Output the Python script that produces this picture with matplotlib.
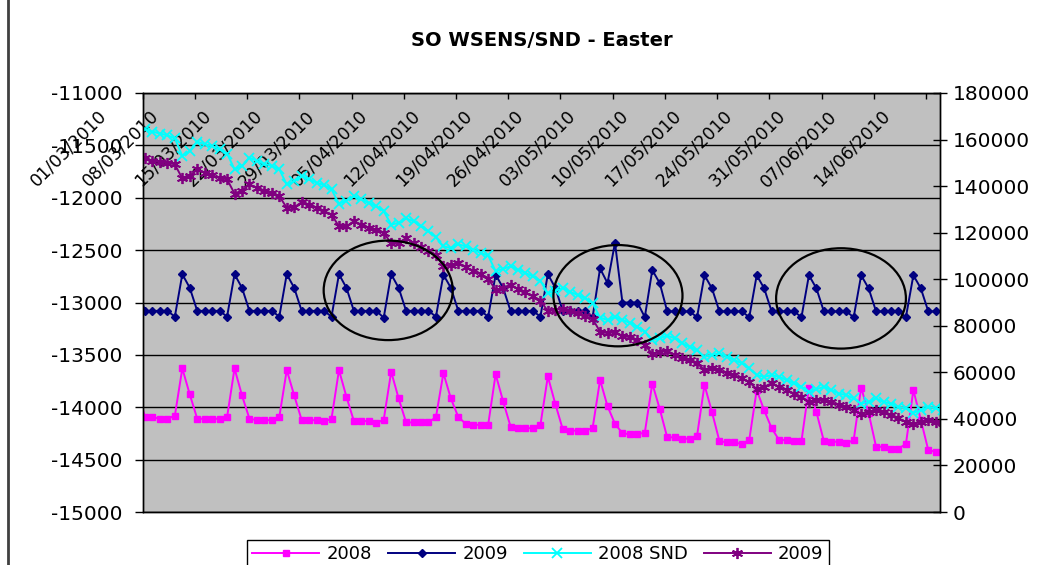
import numpy as np
import matplotlib
matplotlib.use("Agg")
import matplotlib.pyplot as plt
from matplotlib.patches import Ellipse
from matplotlib.transforms import ScaledTranslation
from matplotlib.lines import Line2D
from matplotlib.ticker import StrMethodFormatter

plt.rcParams['font.family'] = ['DejaVu Sans']
plt.rcParams['axes.unicode_minus'] = False

# ---------------- data ----------------
# day index relative to 01/03/2010 (day 0 = Monday 01/03/2010); day -1 = 28/02
days = np.arange(-1, 108)

title = "SO WSENS/SND - Easter"

tick_labels = ["01/03/2010", "08/03/2010", "15/03/2010", "22/03/2010", "29/03/2010",
               "05/04/2010", "12/04/2010", "19/04/2010", "26/04/2010", "03/05/2010",
               "10/05/2010", "17/05/2010", "24/05/2010", "31/05/2010", "07/06/2010",
               "14/06/2010"]

# 2008 (left axis)
s2008 = ([-13845] +
         [-14094, -14094, -14110, -14110, -14081, -13629, -13877] +
         [-14110, -14110, -14110, -14110, -14094, -13629, -13887] +
         [-14110, -14123, -14123, -14123, -14094, -13645, -13887] +
         [-14123, -14123, -14123, -14135, -14110, -13645, -13900] +
         [-14132, -14132, -14132, -14152, -14119, -13661, -13916] +
         [-14145, -14145, -14145, -14145, -14094, -13674, -13916] +
         [-14094, -14158, -14168, -14168, -14168, -13684, -13942] +
         [-14184, -14200, -14200, -14200, -14171, -13706, -13968] +
         [-14210, -14223, -14223, -14223, -14200, -13739, -13990] +
         [-14158, -14248, -14258, -14258, -14242, -13774, -14016] +
         [-14287, -14287, -14300, -14300, -14274, -13787, -14045] +
         [-14323, -14335, -14335, -14352, -14313, -13835, -14029] +
         [-14200, -14313, -14313, -14323, -14323, -13813, -14045] +
         [-14323, -14329, -14329, -14345, -14313, -13813, -14055] +
         [-14377, -14377, -14394, -14394, -14352, -13835, -14120] +
         [-14410, -14426, -14435])

# 2009 (left axis)
s2009 = ([-12860] +
         [-13080, -13080, -13080, -13080, -13135, -12730, -12860] +
         [-13080, -13080, -13080, -13080, -13135, -12730, -12860] +
         [-13080, -13080, -13080, -13080, -13135, -12730, -12860] +
         [-13080, -13080, -13080, -13080, -13135, -12730, -12860] +
         [-13080, -13080, -13080, -13080, -13145, -12730, -12860] +
         [-13080, -13080, -13080, -13080, -13135, -12735, -12860] +
         [-13080, -13080, -13080, -13080, -13135, -12735, -12860] +
         [-13080, -13080, -13080, -13080, -13135, -12730, -12860] +
         [-13080, -13080, -13080, -13080, -13140, -12675, -12815] +
         [-12430, -13000, -13000, -13000, -13140, -12690, -12815] +
         [-13085, -13085, -13085, -13085, -13140, -12740, -12865] +
         [-13085, -13085, -13085, -13085, -13140, -12740, -12865] +
         [-13085, -13085, -13085, -13085, -13140, -12740, -12865] +
         [-13085, -13085, -13085, -13085, -13140, -12740, -12865] +
         [-13085, -13085, -13085, -13085, -13140, -12740, -12865] +
         [-13085, -13085, -13085])

# 2008 SND (right axis, thousands)
snd2008_k = ([160.8] +
             [164.4, 163.4, 162.6, 161.8, 160.5, 152.9, 155.1] +
             [159.1, 158.0, 157.2, 155.8, 154.0, 147.2, 148.6] +
             [152.2, 150.8, 149.6, 148.6, 147.2, 140.7, 142.1] +
             [144.3, 142.9, 141.5, 140.4, 138.6, 132.4, 133.8] +
             [135.7, 134.3, 132.8, 131.4, 129.2, 123.5, 124.2] +
             [126.1, 124.9, 122.7, 120.6, 118.0, 114.1, 113.4] +
             [115.0, 114.1, 112.7, 111.3, 110.2, 103.4, 104.5] +
             [105.5, 104.1, 102.7, 101.2, 99.3, 94.0, 95.0] +
             [96.2, 94.5, 93.3, 91.9, 89.7, 83.5, 82.5] +
             [83.7, 82.5, 81.3, 79.6, 77.5, 73.9, 74.6] +
             [75.8, 74.6, 72.5, 71.0, 69.6, 66.7, 67.5] +
             [68.2, 66.7, 65.3, 63.9, 61.7, 58.8, 58.1] +
             [58.8, 58.1, 56.7, 55.3, 53.8, 51.6, 52.7] +
             [53.8, 52.4, 50.9, 50.2, 48.8, 46.6, 47.3] +
             [48.8, 47.3, 46.6, 45.2, 44.5, 42.6, 43.7] +
             [45.2, 44.5, 43.7])

# 2009 SND (right axis, thousands)
snd2009_k = ([149.3] +
             [152.2, 150.8, 150.3, 150.1, 149.3, 143.3, 144.3] +
             [147.2, 145.8, 144.6, 143.6, 142.9, 136.8, 138.1] +
             [140.7, 139.3, 138.1, 137.1, 135.7, 130.7, 130.9] +
             [133.1, 132.1, 130.7, 129.2, 127.8, 122.7, 122.7] +
             [124.9, 123.5, 122.1, 121.3, 119.9, 115.5, 115.6] +
             [117.7, 115.6, 113.7, 112.3, 110.5, 105.5, 106.2] +
             [107.0, 105.1, 103.7, 102.2, 100.2, 95.5, 96.2] +
             [97.6, 95.8, 94.3, 92.6, 90.7, 86.4, 86.9] +
             [87.4, 86.4, 85.4, 84.2, 82.9, 77.5, 76.8] +
             [77.5, 75.6, 75.1, 73.9, 71.8, 67.9, 68.9] +
             [69.3, 67.5, 66.0, 65.3, 63.9, 61.0, 61.7] +
             [61.0, 59.6, 58.8, 57.4, 55.9, 52.7, 53.8] +
             [55.3, 53.8, 52.4, 50.9, 49.5, 47.3, 48.1] +
             [48.1, 47.3, 45.9, 45.2, 43.7, 42.3, 43.0] +
             [43.7, 43.0, 41.6, 40.2, 38.7, 38.0, 38.7] +
             [39.4, 38.7, 38.3])

snd2008 = np.array(snd2008_k) * 1000
snd2009 = np.array(snd2009_k) * 1000

# annotation ellipses (centre day, centre left-axis value, width days, height value)
ellipses = [(32.6, -12884, 17.3, 950),
            (63.4, -12935, 17.3, 967),
            (93.3, -12961, 17.4, 958)]

# ---------------- figure ----------------
W, H = 1052, 565
fig = plt.figure(figsize=(W / 100, H / 100), dpi=100)
fig.patch.set_facecolor('white')

left_px, right_px, top_px, bot_px = 142.7, 940.0, 93.0, 512.0
ax = fig.add_axes([left_px / W, 1 - bot_px / H, (right_px - left_px) / W, (bot_px - top_px) / H])
ax.set_facecolor('#C0C0C0')
ax2 = ax.twinx()

l1, = ax.plot(days, s2008, color='#FF00FF', marker='s', ms=4.5, lw=1.4, label='2008')
l2, = ax.plot(days, s2009, color='#000080', marker='D', ms=4.2, lw=1.4, label='2009')
l3, = ax2.plot(days, snd2008, color='#00FFFF', marker='x', ms=7.5, mew=1.3, lw=1.4, label='2008 SND')
l4, = ax2.plot(days, snd2009, color='#800080', marker=(6, 2, 0), ms=8, mew=1.3, lw=1.4, label='2009')

for (cx, cy, ew, eh) in ellipses:
    e = Ellipse((cx, cy), ew, eh, transform=ax.transData, fill=False,
                edgecolor='black', lw=1.6, zorder=10)
    ax2.add_artist(e)

# axes limits and ticks
ax.set_xlim(-0.31, 106.57)
ax.set_ylim(-15000, -11000)
ax.set_yticks(np.arange(-15000, -10999, 500))
ax2.set_ylim(0, 180000)
ax2.set_yticks(np.arange(0, 180001, 20000))
ax2.yaxis.set_major_formatter(StrMethodFormatter('{x:.0f}'))

ax.yaxis.grid(True, color='black', lw=1.0)
ax.set_axisbelow(True)

for a in (ax, ax2):
    for sp in a.spines.values():
        sp.set_color('black')
        sp.set_linewidth(1.0)

ax.tick_params(axis='y', direction='out', length=5.5, width=1, labelsize=14.5, pad=9)
ax2.tick_params(axis='y', direction='inout', length=10, width=1, labelsize=14.5, pad=4)
ax.xaxis.tick_top()
ax.tick_params(axis='x', which='major', direction='in', length=4.5, width=1, pad=0, labelsize=12.5)

tick_pos = np.arange(len(tick_labels)) * 7 - 0.31
ax.set_xticks(tick_pos, tick_labels)
shift = ScaledTranslation(-33 / 100, -14 / 100, fig.dpi_scale_trans)
for lab in ax.get_xticklabels():
    lab.set_rotation(45)
    lab.set_ha('right')
    lab.set_va('top')
    lab.set_transform(lab.get_transform() + shift)

# title
fig.text((left_px + right_px) / 2 / W, 1 - 40 / H, title, ha='center', va='center',
         fontsize=14, fontweight='bold')

# legend
leg = fig.legend(handles=[l1, l2, l3, l4], labels=['2008', '2009', '2008 SND', '2009'],
                 loc='upper center', bbox_to_anchor=(538 / W, 1 - 540 / H), ncol=4,
                 frameon=True, fancybox=False, edgecolor='black', framealpha=1,
                 fontsize=13, handlelength=3.7, columnspacing=0.9, borderpad=0.3,
                 handletextpad=0.4, borderaxespad=0)
leg.get_frame().set_linewidth(1.0)

# outer chart frame (left edge)
fig.add_artist(Line2D([8 / W, 8 / W], [0, 1], transform=fig.transFigure, color='#404040', lw=2))

fig.savefig('out.png', dpi=100)
